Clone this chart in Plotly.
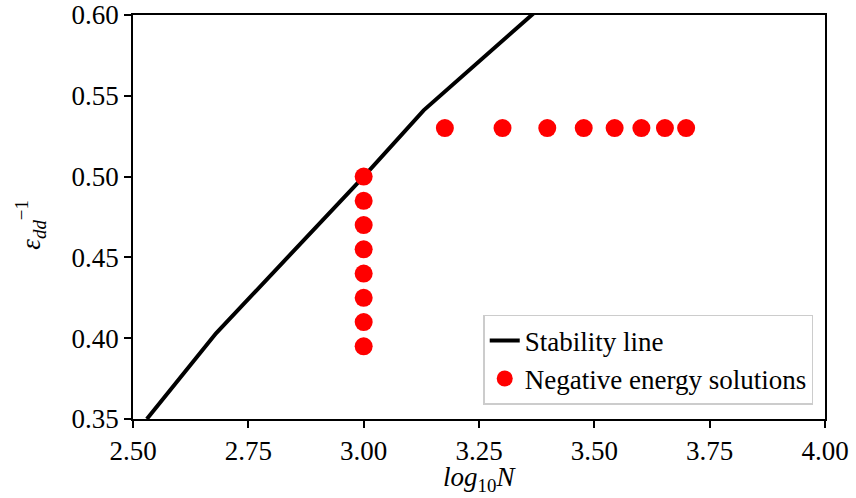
import plotly.graph_objects as go

# Stability line (log10 N, 1/eps_dd)
stab_x = [2.53, 2.68, 3.00, 3.13, 3.40]
stab_y = [0.350, 0.403, 0.500, 0.541, 0.609]

# Negative energy solutions
neg_x = [3.000, 3.000, 3.000, 3.000, 3.000, 3.000, 3.000, 3.000,
         3.176, 3.301, 3.398, 3.477, 3.544, 3.602, 3.653, 3.699]
neg_y = [0.500, 0.485, 0.470, 0.455, 0.440, 0.425, 0.410, 0.395,
         0.530, 0.530, 0.530, 0.530, 0.530, 0.530, 0.530, 0.530]

x_ticks = [2.50, 2.75, 3.00, 3.25, 3.50, 3.75, 4.00]
y_ticks = [0.35, 0.40, 0.45, 0.50, 0.55, 0.60]

FONT = "Liberation Serif, DejaVu Serif, serif"
FS = 27

fig = go.Figure()
fig.add_trace(go.Scatter(x=stab_x, y=stab_y, mode="lines",
                         line=dict(color="black", width=4),
                         name="Stability line"))
fig.add_trace(go.Scatter(x=neg_x, y=neg_y, mode="markers",
                         marker=dict(color="red", size=18, line=dict(width=0)),
                         name="Negative energy solutions"))

axis_common = dict(showline=True, linecolor="black", linewidth=1.5, mirror=True,
                   ticks="outside", ticklen=7, tickwidth=1.5, tickcolor="black",
                   showgrid=False, zeroline=False, automargin=False,
                   tickfont=dict(family=FONT, size=FS, color="black"))

fig.update_xaxes(range=[2.5, 4.0], tickvals=x_ticks,
                 ticktext=[f"{v:.2f}" for v in x_ticks], **axis_common)
fig.update_yaxes(range=[0.35, 0.60], tickvals=y_ticks,
                 ticktext=[f"{v:.2f}" for v in y_ticks], **axis_common)

fig.add_annotation(text="<i>log</i><sub>10</sub><i>N</i>", xref="paper", yref="paper",
                   x=0.5, y=-0.102, xanchor="center", yanchor="top", showarrow=False,
                   font=dict(family=FONT, size=FS, color="black"))
fig.add_annotation(text="<i>ε</i><sub><i>dd</i></sub><sup>−1</sup>", xref="paper", yref="paper",
                   x=-0.148, y=0.48, xanchor="center", yanchor="middle", textangle=-90,
                   showarrow=False, font=dict(family=FONT, size=FS, color="black"))

fig.update_layout(
    width=856, height=498,
    margin=dict(l=133, r=31, t=15, b=79, autoexpand=False),
    plot_bgcolor="white", paper_bgcolor="white",
    font=dict(family=FONT, size=FS, color="black"),
    legend=dict(x=0.983, y=0.035, xanchor="right", yanchor="bottom",
                bgcolor="rgba(255,255,255,0.8)", bordercolor="#cccccc",
                borderwidth=1.5, font=dict(family=FONT, size=FS, color="black"),
                tracegroupgap=2),
    showlegend=True,
)

fig.write_html("out.html", config={"displayModeBar": False},
               post_script="document.body.style.margin='0';document.body.style.overflow='hidden';")
